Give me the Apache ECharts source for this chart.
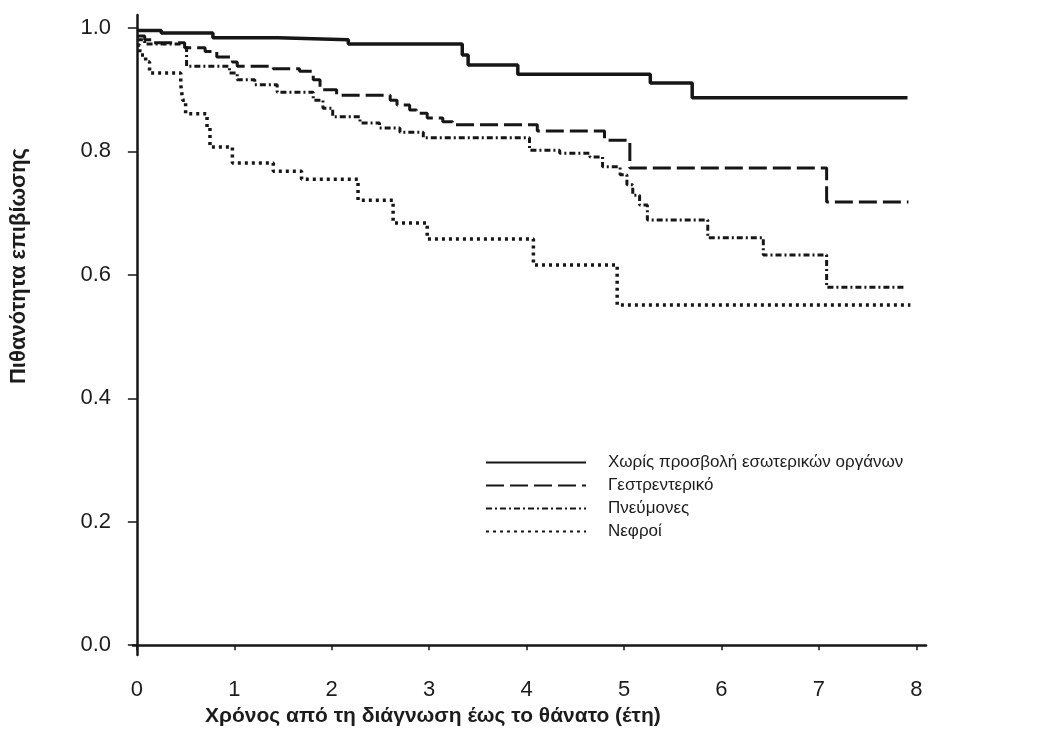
<!DOCTYPE html>
<html>
<head>
<meta charset="utf-8">
<script src="https://cdn.jsdelivr.net/npm/echarts@6/dist/echarts.min.js"></script>
<style>
html, body { margin: 0; padding: 0; background: #fff; }
#survival { width: 1037px; height: 733px; }
</style>
</head>
<body>
<div id="survival"></div>
<script>
// survival curves by organ involvement (step curves, time in years)
const xTicks = [0, 1, 2, 3, 4, 5, 6, 7, 8];
const yTicks = [0, 0.2, 0.4, 0.6, 0.8, 1.0];
const names = ['Χωρίς προσβολή εσωτερικών οργάνων', 'Γεστρεντερικό', 'Πνεύμονες', 'Νεφροί'];

const noneT = [0, 0.25, 0.78, 1.45, 2.17, 3.34, 3.40, 3.91, 5.27, 5.70, 7.91];
const noneS = [0.996, 0.992, 0.984, 0.981, 0.974, 0.956, 0.940, 0.925, 0.911, 0.887, 0.887];

const giT = [0, 0.08, 0.15, 0.49, 0.70, 0.82, 0.98, 1.03, 1.40, 1.67, 1.81, 1.88, 2.05, 2.60, 2.67, 2.80, 2.87, 2.98, 3.14, 3.24, 4.11, 4.80, 5.06, 7.08, 7.92];
const giS = [0.987, 0.981, 0.976, 0.968, 0.962, 0.953, 0.945, 0.938, 0.934, 0.930, 0.916, 0.900, 0.891, 0.883, 0.875, 0.867, 0.862, 0.854, 0.848, 0.843, 0.833, 0.818, 0.773, 0.718, 0.718];

const lungT = [0, 0.08, 0.51, 0.95, 1.03, 1.21, 1.44, 1.81, 1.91, 2.01, 2.29, 2.49, 2.70, 2.94, 4.03, 4.34, 4.65, 4.78, 4.96, 5.03, 5.09, 5.16, 5.24, 5.86, 6.43, 7.08, 7.89];
const lungS = [0.981, 0.974, 0.938, 0.927, 0.916, 0.908, 0.896, 0.883, 0.870, 0.856, 0.846, 0.838, 0.831, 0.822, 0.802, 0.797, 0.791, 0.775, 0.762, 0.746, 0.729, 0.713, 0.689, 0.660, 0.632, 0.580, 0.580];

const kidT = [0, 0.03, 0.09, 0.13, 0.45, 0.47, 0.50, 0.72, 0.75, 0.98, 1.40, 1.69, 2.27, 2.63, 2.98, 4.07, 4.93, 7.94];
const kidS = [0.972, 0.956, 0.945, 0.927, 0.908, 0.883, 0.861, 0.838, 0.807, 0.781, 0.768, 0.755, 0.721, 0.684, 0.658, 0.616, 0.551, 0.551];

const font = '"Liberation Sans", Arial, sans-serif';
const ink = '#161616';

function pairs(t, s) {
    return t.map((v, i) => [v, s[i]]);
}

function curve(name, t, s, width, type) {
    return {
        name: name,
        type: 'line',
        step: 'end',
        symbol: 'none',
        showSymbol: false,
        data: pairs(t, s),
        lineStyle: { color: ink, width: width, type: type },
        itemStyle: { color: ink }
    };
}

let myChart = echarts.init(document.getElementById('survival'));
myChart.setOption({
    animation: false,
    backgroundColor: '#fff',
    grid: { left: 133, right: 111, top: 15, bottom: 78 },
    legend: {
        orient: 'vertical',
        left: 485,
        top: 454,
        padding: 0,
        itemWidth: 100,
        itemHeight: 14,
        itemGap: 6,
        itemStyle: { opacity: 0 },
        textStyle: { fontSize: 17, color: '#1c1c1c', fontFamily: font, padding: [0, 0, 0, 17] },
        data: names
    },
    xAxis: {
        type: 'value',
        min: -0.04,
        max: 8.1,
        axisLine: { lineStyle: { color: ink, width: 2.5 } },
        axisTick: { customValues: xTicks, length: 5, lineStyle: { color: ink, width: 1.5 } },
        axisLabel: { customValues: xTicks, margin: 24, fontSize: 22, color: '#1c1c1c', fontFamily: font },
        splitLine: { show: false }
    },
    yAxis: {
        type: 'value',
        min: -0.016,
        max: 1.021,
        axisLine: { show: true, lineStyle: { color: ink, width: 2.5 } },
        axisTick: { show: true, customValues: yTicks, length: 9, lineStyle: { color: ink, width: 1.5 } },
        axisLabel: {
            customValues: yTicks,
            margin: 22,
            fontSize: 22,
            color: '#1c1c1c',
            fontFamily: font,
            formatter: v => v.toFixed(1)
        },
        splitLine: { show: false }
    },
    graphic: [
        {
            type: 'text',
            left: 205,
            top: 706,
            style: { text: 'Χρόνος από τη διάγνωση έως το θάνατο (έτη)', fill: '#1c1c1c', font: 'bold 21px ' + font }
        },
        {
            type: 'text',
            x: 19,
            y: 266,
            rotation: Math.PI / 2,
            style: { text: 'Πιθανότητα επιβίωσης', fill: '#1c1c1c', font: 'bold 22px ' + font, align: 'center', verticalAlign: 'middle' }
        }
    ],
    series: [
        curve(names[0], noneT, noneS, 3.5, 'solid'),
        curve(names[1], giT, giS, 3, [18, 6]),
        curve(names[2], lungT, lungS, 3, [6, 3, 2, 3]),
        curve(names[3], kidT, kidS, 3.5, [3, 4])
    ]
});
</script>
</body>
</html>
